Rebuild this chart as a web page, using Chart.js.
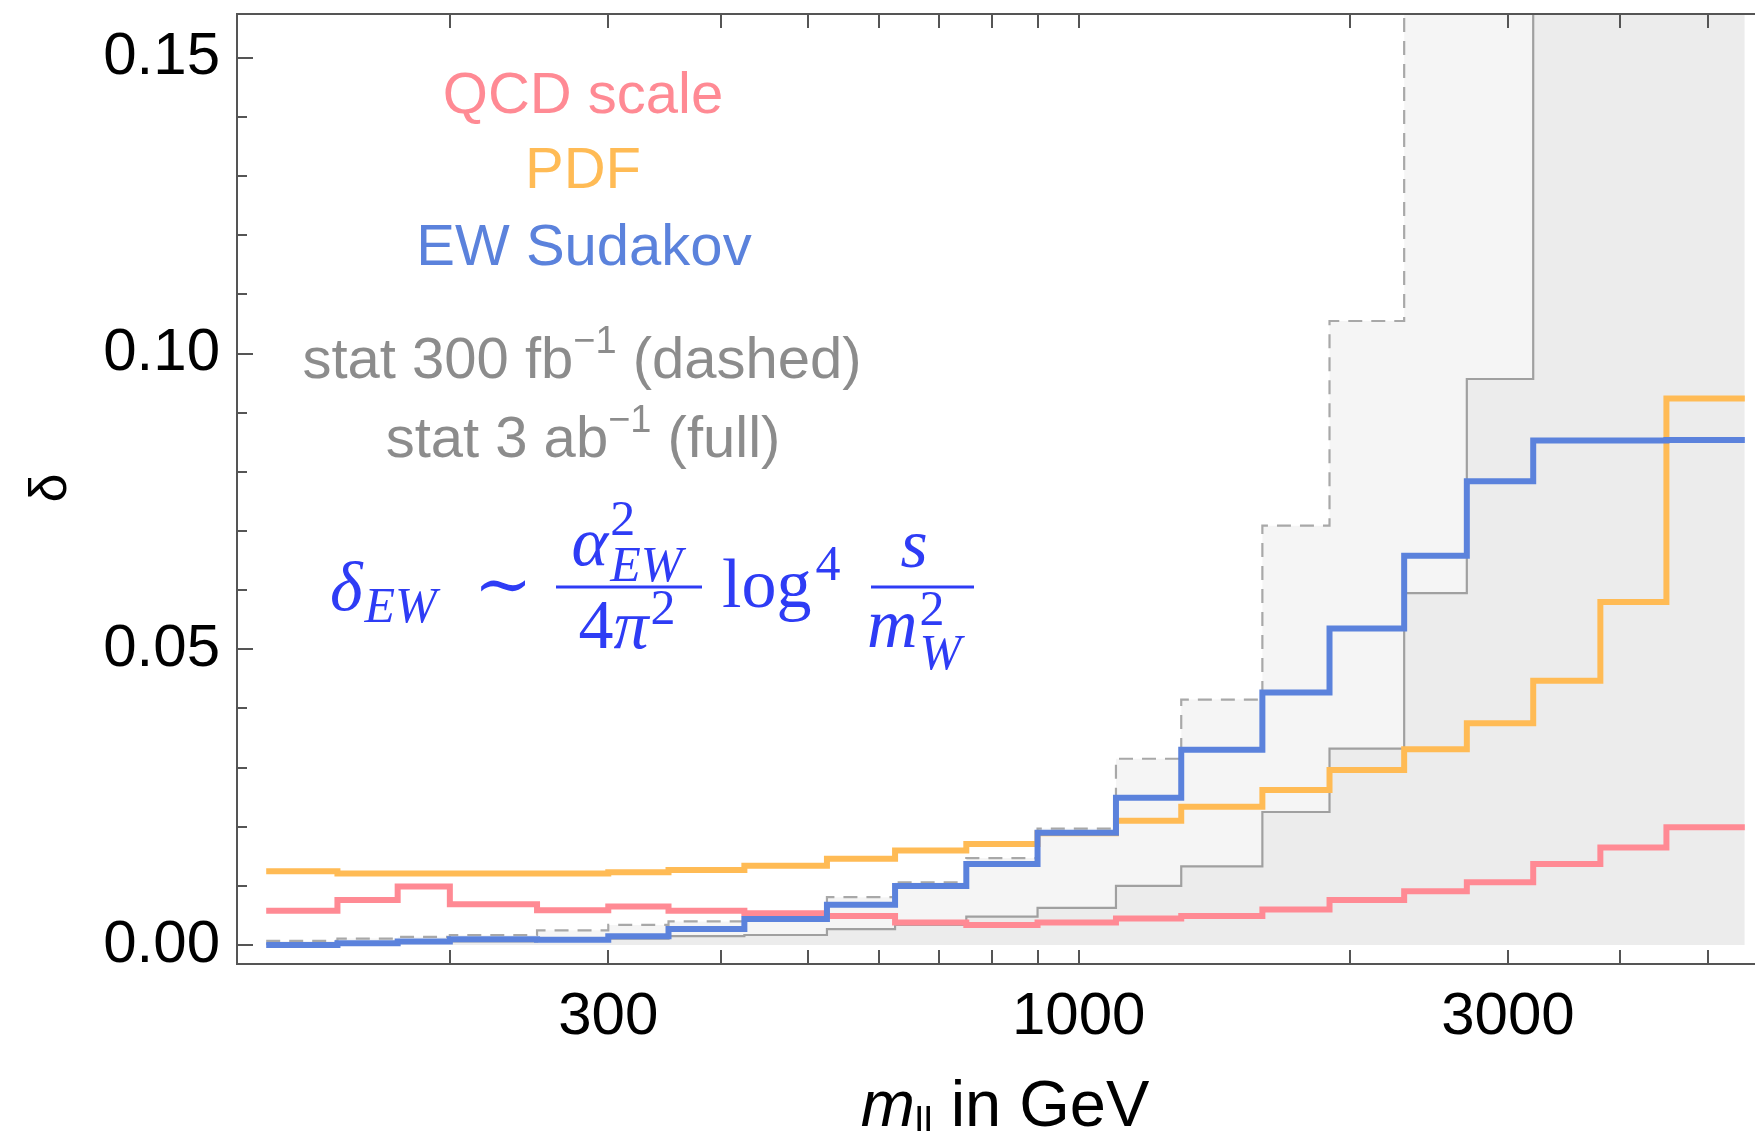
<!DOCTYPE html>
<html>
<head>
<meta charset="utf-8">
<script src="https://cdn.jsdelivr.net/npm/chart.js@4.4.0/dist/chart.umd.min.js"></script>
<style>
  html, body { margin: 0; padding: 0; background: #ffffff; }
  #chart { display: block; }
</style>
</head>
<body>
<canvas id="chart" width="1755" height="1131"></canvas>
<script>
// bin edges of the m_ll histogram, in GeV (21 bins)
var binEdges = [125, 150, 175, 200, 250, 300, 350, 425, 525, 625, 750, 900, 1100, 1300, 1600, 1900, 2300, 2700, 3200, 3800, 4500, 5500];

// relative uncertainty per bin
var qcdScale  = [0.0058, 0.0076, 0.0099, 0.0069, 0.0059, 0.0065, 0.0058, 0.0054, 0.0049, 0.0038, 0.0034, 0.0038, 0.0045, 0.0049, 0.0060, 0.0076, 0.0091, 0.0106, 0.0137, 0.0165, 0.0199];
var pdf       = [0.0125, 0.0121, 0.0121, 0.0121, 0.0121, 0.0123, 0.0127, 0.0134, 0.0146, 0.0160, 0.0171, 0.0189, 0.0210, 0.0234, 0.0262, 0.0296, 0.0331, 0.0375, 0.0447, 0.0580, 0.0924];
var ewSudakov = [0.0000, 0.0003, 0.0006, 0.0010, 0.0009, 0.0015, 0.0027, 0.0044, 0.0068, 0.0100, 0.0137, 0.0190, 0.0249, 0.0330, 0.0427, 0.0535, 0.0658, 0.0784, 0.0853, 0.0853, 0.0854];
var stat300fb = [0.0007, 0.0011, 0.0014, 0.0017, 0.0025, 0.0034, 0.0040, 0.0046, 0.0081, 0.0106, 0.0147, 0.0197, 0.0315, 0.0415, 0.0709, 0.1055, 0.19, 0.30, 0.60, 0.95, 1.65];
var stat3ab   = [0.0002, 0.0003, 0.0004, 0.0006, 0.0008, 0.0011, 0.0015, 0.0017, 0.0027, 0.0034, 0.0048, 0.0063, 0.0100, 0.0133, 0.0225, 0.0332, 0.0595, 0.0957, 0.19, 0.30, 0.52];

// axis ticks
var xTicks = [200, 300, 400, 500, 600, 700, 800, 900, 1000, 2000, 3000, 4000, 5000];
var xLabelValues = [300, 1000, 3000];
var xTickLabels = ["300", "1000", "3000"];
var yTicks = [0, 0.01, 0.02, 0.03, 0.04, 0.05, 0.06, 0.07, 0.08, 0.09, 0.10, 0.11, 0.12, 0.13, 0.14, 0.15];
var yLabelValues = [0, 0.05, 0.10, 0.15];
var yTickLabels = ["0.00", "0.05", "0.10", "0.15"];

var red = "#ff8a94", orange = "#ffbb55", blue = "#5b82dc", grayText = "#8c8c8c", formulaBlue = "#2e3cf5";
var sans = '"Liberation Sans", Arial, sans-serif';
var serif = '"Liberation Serif", "DejaVu Serif", serif';

// turns per-bin values into points for a stepped line
function stepPoints(values) {
    var pts = [];
    for (var i = 0; i < values.length; i++) {
        pts.push({ x: binEdges[i], y: values[i] });
    }
    pts.push({ x: binEdges[values.length], y: values[values.length - 1] });
    return pts;
}

function findLabel(values, labels, v) {
    for (var i = 0; i < values.length; i++) {
        if (Math.abs(values[i] - v) < 1e-9) return labels[i];
    }
    return "";
}

// frame and inward ticks, Mathematica style
var frameTicks = {
    id: "frameTicks",
    afterDatasetsDraw: function (chart) {
        var c = chart.ctx, a = chart.chartArea;
        var xs = chart.scales.x, ys = chart.scales.y;
        c.save();
        c.strokeStyle = "#555555";
        c.lineWidth = 2;
        c.beginPath();
        c.moveTo(a.right, a.top);
        c.lineTo(a.left, a.top);
        c.lineTo(a.left, a.bottom);
        c.lineTo(a.right, a.bottom);
        c.stroke();
        c.beginPath();
        xTicks.forEach(function (v) {
            var px = Math.round(xs.getPixelForValue(v));
            c.moveTo(px, a.bottom);
            c.lineTo(px, a.bottom - 14);
            c.moveTo(px, a.top);
            c.lineTo(px, a.top + 14);
        });
        yTicks.forEach(function (v) {
            var py = Math.round(ys.getPixelForValue(v));
            var len = findLabel(yLabelValues, yTickLabels, v) ? 16 : 10;
            c.moveTo(a.left, py);
            c.lineTo(a.left + len, py);
        });
        c.stroke();
        c.restore();
    }
};

// draws a row of text pieces [text, font, dy] starting at x (or centred on x)
function drawPieces(c, pieces, x, baseline, centred) {
    var total = 0;
    pieces.forEach(function (p) { c.font = p[1]; total += c.measureText(p[0]).width; });
    var px = centred ? x - total / 2 : x;
    pieces.forEach(function (p) {
        c.font = p[1];
        c.fillText(p[0], px, baseline + (p[2] || 0));
        px += c.measureText(p[0]).width;
    });
}

function textWidth(c, t, font) {
    c.font = font;
    return c.measureText(t).width;
}

// base glyph with a stacked superscript and subscript, centred on cx
function drawScripted(c, baseParts, supText, subText, cx, baseline, supDy, subDy, scrFont, scrItFont) {
    var w = 0;
    baseParts.forEach(function (p) { w += textWidth(c, p[0], p[1]); });
    var wSup = supText ? textWidth(c, supText, scrFont) : 0;
    var wSub = subText ? textWidth(c, subText, scrItFont) : 0;
    var total = w + 2 + Math.max(wSup, wSub);
    var x = cx - total / 2;
    baseParts.forEach(function (p) {
        c.font = p[1];
        c.fillText(p[0], x, baseline);
        x += c.measureText(p[0]).width;
    });
    x += 2;
    if (supText) { c.font = scrFont; c.fillText(supText, x, baseline + supDy); }
    if (subText) { c.font = scrItFont; c.fillText(subText, x, baseline + subDy); }
}

var annotations = {
    id: "annotations",
    afterDraw: function (chart) {
        var c = chart.ctx;
        c.save();
        c.textBaseline = "alphabetic";
        c.textAlign = "left";

        // legend texts
        var big = "58px " + sans, sup = "38px " + sans;
        c.fillStyle = red;
        drawPieces(c, [["QCD scale", big]], 583, 113, true);
        c.fillStyle = orange;
        drawPieces(c, [["PDF", big]], 583, 188, true);
        c.fillStyle = blue;
        drawPieces(c, [["EW Sudakov", big]], 584, 265, true);
        c.fillStyle = grayText;
        drawPieces(c, [["stat 300 fb", big], ["\u22121", sup, -25], [" (dashed)", big]], 582, 378, true);
        drawPieces(c, [["stat 3 ab", big], ["\u22121", sup, -25], [" (full)", big]], 583, 457, true);

        // formula  delta_EW ~ alpha^2_EW / (4 pi^2) log^4 s / m^2_W
        var mainIt = "italic 70px " + serif, main = "70px " + serif;
        var scrIt = "italic 50px " + serif, scr = "50px " + serif;
        c.fillStyle = formulaBlue;
        c.strokeStyle = formulaBlue;
        c.font = mainIt; c.fillText("\u03b4", 330, 610);
        var dw = textWidth(c, "\u03b4", mainIt);
        c.font = scrIt; c.fillText("EW", 330 + dw + 2, 622);
        c.font = main; c.textBaseline = "middle"; c.textAlign = "center";
        c.fillText("\u223c", 503, 590);
        c.textBaseline = "alphabetic"; c.textAlign = "left";
        c.lineWidth = 3;
        c.beginPath();
        c.moveTo(556, 587); c.lineTo(702, 587);
        c.moveTo(871, 587); c.lineTo(974, 587);
        c.stroke();
        drawScripted(c, [["\u03b1", mainIt]], "2", "EW", 627, 565, -30, 16, scr, scrIt);
        drawScripted(c, [["4", main], ["\u03c0", mainIt]], "2", "", 627, 648, -24, 0, scr, scrIt);
        c.font = main; c.fillText("log", 722, 607);
        var lw = textWidth(c, "log", main);
        c.font = scr; c.fillText("4", 722 + lw + 4, 580);
        c.font = mainIt; c.textAlign = "center"; c.fillText("s", 914, 567); c.textAlign = "left";
        drawScripted(c, [["m", mainIt]], "2", "W", 914, 647, -22, 22, scr, scrIt);

        // axis titles
        c.fillStyle = "#000000";
        drawPieces(c, [["m", "italic 65px " + sans], ["ll", "40px " + sans, 10], [" in GeV", "65px " + sans]], 1005, 1126, true);
        c.save();
        c.translate(66, 488);
        c.rotate(-Math.PI / 2);
        c.font = "52px " + sans;
        c.textAlign = "center";
        c.fillText("\u03b4", 0, 0);
        c.restore();

        c.restore();
    }
};

var ctx = document.getElementById("chart").getContext("2d");
var chart = new Chart(ctx, {
    type: "line",
    data: {
        datasets: [
            { label: "EW Sudakov", data: stepPoints(ewSudakov), borderColor: blue, borderWidth: 6, order: 0 },
            { label: "PDF", data: stepPoints(pdf), borderColor: orange, borderWidth: 6, order: 1 },
            { label: "QCD scale", data: stepPoints(qcdScale), borderColor: red, borderWidth: 6, order: 2 },
            { label: "stat 3 ab-1", data: stepPoints(stat3ab), borderColor: "#a0a0a0", borderWidth: 2.2,
              fill: "origin", backgroundColor: "rgba(0,0,0,0.04)", order: 3 },
            { label: "stat 300 fb-1", data: stepPoints(stat300fb), borderColor: "#a8a8a8", borderWidth: 2.2,
              borderDash: [14, 9], fill: "origin", backgroundColor: "rgba(0,0,0,0.04)", order: 4 }
        ]
    },
    options: {
        responsive: false,
        animation: false,
        layout: { padding: { top: 14, left: 0, right: 0, bottom: 0 } },
        elements: {
            // horizontal at each bin's value, then vertical at the next edge
            line: { stepped: "before", tension: 0, borderJoinStyle: "miter", borderCapStyle: "butt" },
            point: { radius: 0, hoverRadius: 0 }
        },
        plugins: {
            legend: { display: false },
            tooltip: { enabled: false },
            filler: { drawTime: "beforeDatasetsDraw" }
        },
        scales: {
            x: {
                type: "logarithmic",
                min: 116,
                max: 5645,
                afterBuildTicks: function (scale) {
                    scale.ticks = xTicks.map(function (v) { return { value: v }; });
                },
                afterFit: function (scale) {
                    scale.height = 167;
                    scale.paddingLeft = 0;
                    scale.paddingRight = 0;
                },
                grid: { display: false, drawTicks: false },
                border: { display: false },
                ticks: {
                    autoSkip: false,
                    maxRotation: 0,
                    padding: 17,
                    color: "#000000",
                    font: { family: sans, size: 60 },
                    callback: function (value) { return findLabel(xLabelValues, xTickLabels, value); }
                }
            },
            y: {
                type: "linear",
                min: -0.0032,
                max: 0.1574,
                afterBuildTicks: function (scale) {
                    scale.ticks = yTicks.map(function (v) { return { value: v }; });
                },
                afterFit: function (scale) {
                    scale.width = 237;
                    scale.paddingTop = 0;
                    scale.paddingBottom = 0;
                },
                grid: { display: false, drawTicks: false },
                border: { display: false },
                ticks: {
                    autoSkip: false,
                    padding: 17,
                    color: "#000000",
                    font: { family: sans, size: 60 },
                    callback: function (value) { return findLabel(yLabelValues, yTickLabels, value); }
                }
            }
        }
    },
    plugins: [frameTicks, annotations]
});
</script>
</body>
</html>
